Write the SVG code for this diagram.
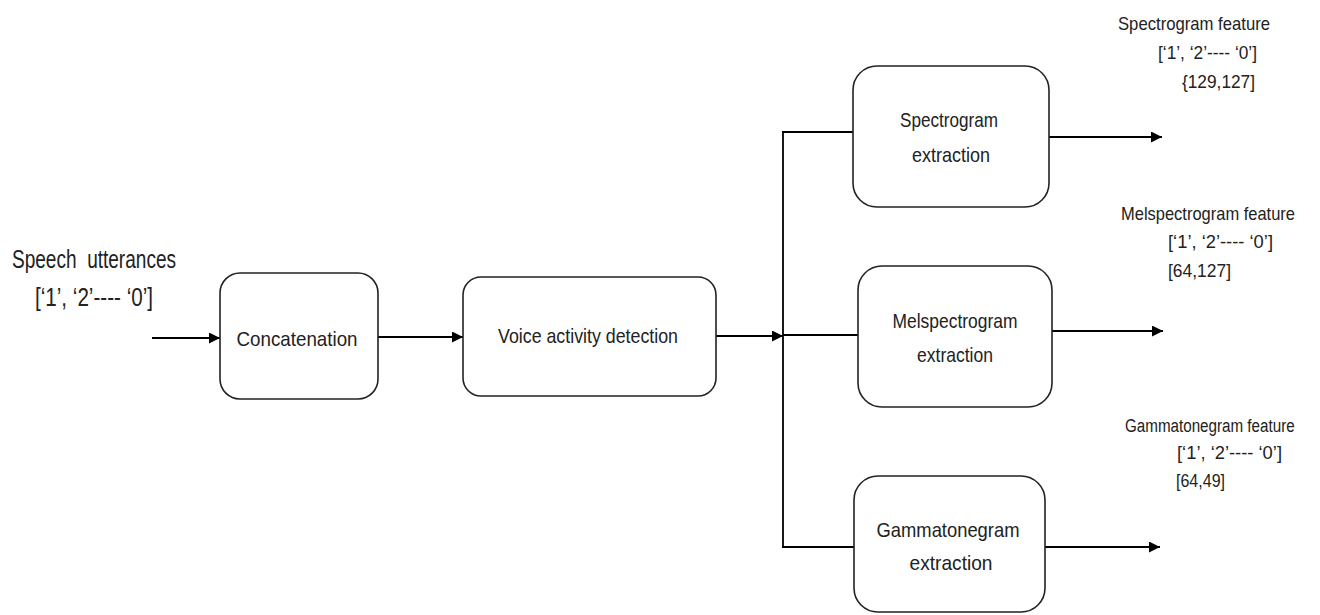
<svg xmlns="http://www.w3.org/2000/svg" width="1320" height="615" viewBox="0 0 1320 615">
<defs>
<marker id="ah" viewBox="0 0 10 10" refX="10" refY="5" markerWidth="11" markerHeight="11" markerUnits="userSpaceOnUse" orient="auto">
<path d="M0,0 L10,5 L0,10 z" fill="#000"/>
</marker>
<style>
.box{fill:#fff;stroke:#222;stroke-width:1.6}
.ln{fill:none;stroke:#000;stroke-width:1.8}
.t{font-family:"Liberation Sans Narrow","Liberation Sans",Arial,sans-serif;fill:#222}
.bt{font-size:21px;text-anchor:middle}
.lt{font-size:25px}
.ft{font-size:19px}
</style>
</defs>
<rect width="1320" height="615" fill="#fff"/>
<g id="connectors">
<line class="ln" x1="152" y1="338" x2="220" y2="338" marker-end="url(#ah)"/>
<line class="ln" x1="378" y1="337" x2="463" y2="337" marker-end="url(#ah)"/>
<line class="ln" x1="716" y1="336" x2="783" y2="336" marker-end="url(#ah)"/>
<line class="ln" x1="783" y1="132" x2="783" y2="548"/>
<line class="ln" x1="782" y1="132" x2="853" y2="132"/>
<line class="ln" x1="783" y1="335" x2="858" y2="335"/>
<line class="ln" x1="782" y1="547" x2="854" y2="547"/>
<line class="ln" x1="1049" y1="137" x2="1162" y2="137" marker-end="url(#ah)"/>
<line class="ln" x1="1052" y1="331" x2="1163" y2="331" marker-end="url(#ah)"/>
<line class="ln" x1="1045" y1="547" x2="1160" y2="547" marker-end="url(#ah)"/>
</g>
<g id="input-label">
<text class="t lt" x="12" y="268" textLength="164" lengthAdjust="spacingAndGlyphs" xml:space="preserve">Speech  utterances</text>
<text class="t lt" x="35" y="306" textLength="118" lengthAdjust="spacingAndGlyphs">[‘1’, ‘2’---- ‘0’]</text>
</g>
<g id="concatenation">
<rect class="box" x="220" y="273" width="158" height="126" rx="20"/>
<text class="t bt" x="297" y="346" textLength="121" lengthAdjust="spacingAndGlyphs">Concatenation</text>
</g>
<g id="vad">
<rect class="box" x="463" y="277" width="253" height="119" rx="18"/>
<text class="t bt" x="588" y="343" textLength="180" lengthAdjust="spacingAndGlyphs">Voice activity detection</text>
</g>
<g id="spectrogram">
<rect class="box" x="853" y="66" width="196" height="141" rx="24"/>
<text class="t bt" x="949" y="127" textLength="98" lengthAdjust="spacingAndGlyphs">Spectrogram</text>
<text class="t bt" x="951" y="162" textLength="78" lengthAdjust="spacingAndGlyphs">extraction</text>
</g>
<g id="melspectrogram">
<rect class="box" x="858" y="266" width="194" height="141" rx="24"/>
<text class="t bt" x="955" y="328" textLength="125" lengthAdjust="spacingAndGlyphs">Melspectrogram</text>
<text class="t bt" x="955" y="362" textLength="76" lengthAdjust="spacingAndGlyphs">extraction</text>
</g>
<g id="gammatonegram">
<rect class="box" x="854" y="476" width="191" height="136" rx="24"/>
<text class="t bt" x="948" y="537" textLength="143" lengthAdjust="spacingAndGlyphs">Gammatonegram</text>
<text class="t bt" x="951" y="570" textLength="83" lengthAdjust="spacingAndGlyphs">extraction</text>
</g>
<g id="spectrogram-feature">
<text class="t ft" x="1118" y="30" textLength="152" lengthAdjust="spacingAndGlyphs">Spectrogram feature</text>
<text class="t ft" x="1158" y="59" textLength="99" lengthAdjust="spacingAndGlyphs">[‘1’, ‘2’---- ‘0’]</text>
<text class="t ft" x="1182" y="88" textLength="73" lengthAdjust="spacingAndGlyphs">{129,127]</text>
</g>
<g id="melspectrogram-feature">
<text class="t ft" x="1121" y="220" textLength="174" lengthAdjust="spacingAndGlyphs">Melspectrogram feature</text>
<text class="t ft" x="1168" y="248" textLength="105" lengthAdjust="spacingAndGlyphs">[‘1’, ‘2’---- ‘0’]</text>
<text class="t ft" x="1168" y="277" textLength="63" lengthAdjust="spacingAndGlyphs">[64,127]</text>
</g>
<g id="gammatonegram-feature">
<text class="t ft" transform="translate(1125,432) scale(0.8,1)" x="0" y="0">Gammatonegram feature</text>
<text class="t ft" x="1177" y="459" textLength="105" lengthAdjust="spacingAndGlyphs">[‘1’, ‘2’---- ‘0’]</text>
<text class="t ft" x="1176" y="487" textLength="49" lengthAdjust="spacingAndGlyphs">[64,49]</text>
</g>
</svg>
